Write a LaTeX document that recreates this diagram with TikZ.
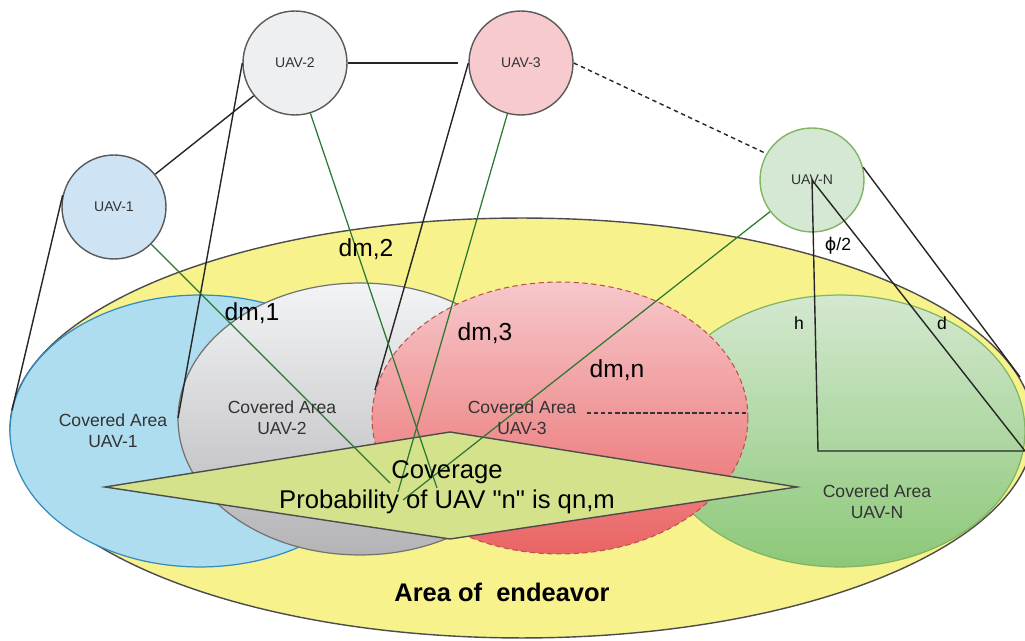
\documentclass[tikz,border=0pt]{standalone}
\usepackage{fontspec}
\setmainfont{Liberation Sans}
\newfontfamily\phifont{DejaVu Sans}
\definecolor{areayellow}{RGB}{247,242,140}
\definecolor{blueline}{RGB}{50,140,190}
\definecolor{bluefill}{RGB}{175,221,240}
\definecolor{greytop}{RGB}{243,244,246}
\definecolor{greybot}{RGB}{180,180,182}
\definecolor{redtop}{RGB}{246,200,203}
\definecolor{redbot}{RGB}{234,100,100}
\definecolor{redline}{RGB}{190,80,80}
\definecolor{greentop}{RGB}{212,232,208}
\definecolor{greenbot}{RGB}{140,200,120}
\definecolor{greenline}{RGB}{130,180,100}
\definecolor{probfill}{RGB}{212,226,140}
\definecolor{uavone}{RGB}{206,228,245}
\definecolor{uavtwo}{RGB}{238,239,241}
\definecolor{uavthree}{RGB}{247,202,206}
\definecolor{uavn}{RGB}{213,232,212}
\definecolor{raygreen}{RGB}{40,120,45}
\usetikzlibrary{positioning}
\begin{document}
\begin{tikzpicture}[x=0.02cm, y=-0.02cm,
    uav/.style={circle, draw=black!65, line width=0.8pt, minimum size=2.08cm, inner sep=0pt,
        text=black!80, font=\fontsize{8}{9}\selectfont},
    area/.style={align=center, text=black!80, font=\fontsize{10}{12}\selectfont},
    dist/.style={font=\fontsize{14}{16}\selectfont},
    small/.style={font=\fontsize{10}{12}\selectfont},
    cone/.style={draw=black!85, line width=0.8pt},
    ray/.style={draw=raygreen, line width=0.7pt}]
\useasboundingbox (0,0) rectangle (1025,641);

% area of endeavor and covered areas
\filldraw[fill=areayellow, draw=black!70, line width=0.8pt] (522,428) ellipse [x radius=10.24cm, y radius=4.2cm];
\path[draw=greenline, line width=0.7pt, top color=greentop, bottom color=greenbot] (840,431) ellipse [x radius=3.7cm, y radius=2.72cm];
\filldraw[fill=bluefill, draw=blueline, line width=0.7pt] (200,431) ellipse [x radius=3.8cm, y radius=2.72cm];
\path[draw=black!55, line width=0.7pt, top color=greytop, bottom color=greybot] (360,419) ellipse [x radius=3.64cm, y radius=2.72cm];
\path[draw=redline, densely dashed, line width=0.6pt, top color=redtop, bottom color=redbot] (560,418) ellipse [x radius=3.76cm, y radius=2.72cm];

% UAVs
\node[uav, fill=uavone] (u1) at (114,207) {UAV-1};
\node[uav, fill=uavtwo] (u2) at (295,63) {UAV-2};
\node[uav, fill=uavthree] (u3) at (521,63) {UAV-3};
\node[uav, fill=uavn, draw=greenline] (uN) at (812,180) {UAV-N};

% links
\draw[cone] (u1) -- (u2);
\draw[cone, shorten >=6pt] (u2) -- (u3);
\draw[black!85, line width=0.8pt, dash pattern=on 2.5pt off 2pt] (u3.east) -- (uN.150);

% footprint edges
\coordinate (e1) at (12,410);
\coordinate (e2) at (178,418);
\coordinate (e3) at (375,390);
\coordinate (eN) at (1020,377);
\coordinate (foot) at (818,451);
\coordinate (rim) at (1025,451);
\draw[cone] (u1.167) -- (e1);
\draw[cone] (u2.west) -- (e2);
\draw[cone] (u3.west) -- (e3);
\draw[cone] (uN.14) -- (eN);
\draw[cone] (uN.center) -- (foot) -- (rim) -- cycle;

% coverage probability
\coordinate (kl) at (105,487);
\coordinate (kt) at (450,432);
\coordinate (kr) at (797,487);
\coordinate (kb) at (450,539);
\filldraw[fill=probfill, draw=black!70, line width=0.8pt] (kl) -- (kt) -- (kr) -- (kb) -- cycle;

% distances to the point m
\coordinate (p1) at (390,483);
\coordinate (p2) at (437,488);
\coordinate (p3) at (398,492);
\coordinate (pN) at (403,500);
\draw[ray] (u1.-45) -- (p1);
\draw[ray] (u2.-73) -- (p2);
\draw[ray] (u3.-105) -- (p3);
\draw[ray] (uN.217) -- (pN);

\node[dist, align=center, font=\fontsize{14.6}{16}\selectfont] (prob) at (447,487)
    {Coverage\\[1pt]Probability of UAV \textquotedbl n\textquotedbl{} is qn,m};

% labels
\node[area] (c1) at (113,431) {Covered Area\\UAV-1};
\node[area] (c2) at (282,418) {Covered Area\\UAV-2};
\node[area] (c3) at (522,418) {Covered Area\\UAV-3};
\node[area] (cN) at (877,502) {Covered Area\\UAV-N};
\coordinate (d3a) at (587,413);
\coordinate (d3b) at (748,413);
\draw[black!80, line width=0.6pt, dash pattern=on 2.5pt off 1.5pt] (d3a) -- (d3b);

\node[dist] (dm2) at (366,249) {dm,2};
\node[dist] (dm1) at (252,313) {dm,1};
\node[dist] (dm3) at (485,333) {dm,3};
\node[dist] (dmn) at (617,370) {dm,n};
\node[small] (phi) at (838,246) {{\phifont ϕ}/2};
\node[small] (hh) at (799,323) {h};
\node[small] (dd) at (942,323) {d};

\node[font=\bfseries\fontsize{14.5}{17}\selectfont] (aoe) at (502,592) {Area of~ endeavor};
\end{tikzpicture}
\end{document}
